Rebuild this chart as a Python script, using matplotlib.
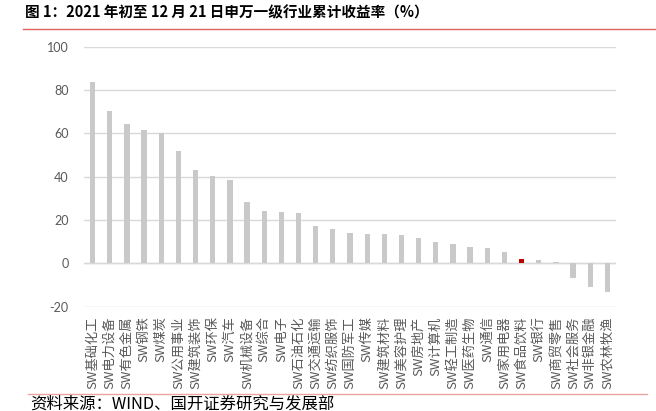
import matplotlib
matplotlib.use("Agg")
import matplotlib.pyplot as plt
from matplotlib.lines import Line2D

plt.rcParams['font.family'] = ['Noto Sans CJK SC', 'DejaVu Sans']

categories = ["SW基础化工", "SW电力设备", "SW有色金属", "SW钢铁", "SW煤炭", "SW公用事业",
              "SW建筑装饰", "SW环保", "SW汽车", "SW机械设备", "SW综合", "SW电子",
              "SW石油石化", "SW交通运输", "SW纺织服饰", "SW国防军工", "SW传媒", "SW建筑材料",
              "SW美容护理", "SW房地产", "SW计算机", "SW轻工制造", "SW医药生物", "SW通信",
              "SW家用电器", "SW食品饮料", "SW银行", "SW商贸零售", "SW社会服务", "SW非银金融",
              "SW农林牧渔"]
values = [83.6, 70.4, 64.2, 61.4, 60.1, 51.7, 42.9, 40.4, 38.7, 28.3, 24.4, 23.9,
          23.1, 17.4, 15.8, 14.0, 13.6, 13.6, 13.2, 11.8, 9.9, 9.1, 7.4, 7.0,
          5.1, 1.9, 1.6, 0.8, -6.7, -11.0, -13.3]
highlight = "SW食品饮料"
yticks = [-20, 0, 20, 40, 60, 80, 100]

W, H = 656, 411
fig = plt.figure(figsize=(W / 100, H / 100), dpi=100)
ax = fig.add_axes([84 / W, 1 - 306.7 / H, (616 - 84) / W, 260 / H])

colors = ['#c00000' if c == highlight else '#c9c9c9' for c in categories]
x = list(range(len(categories)))
ax.bar(x, values, width=0.31, color=colors, zorder=3)

ax.set_xlim(-0.5, len(categories) - 0.5)
ax.set_ylim(-20, 100)
ax.set_yticks(yticks)
ax.yaxis.grid(True, color='#d9d9d9', linewidth=1.0, zorder=0)
ax.axhline(0, color='#d9d9d9', linewidth=1.0, zorder=2)
for s in ax.spines.values():
    s.set_visible(False)
ax.tick_params(axis='y', length=0, pad=11, labelsize=9, labelcolor='#595959')
ax.set_yticklabels([str(v) for v in yticks], family=['Lato', 'DejaVu Sans'])
ax.set_xticks(x)
ax.set_xticklabels(categories, rotation=90, fontsize=9.5, color='#595959', va='top', ha='center')
ax.tick_params(axis='x', length=0, pad=7)

fig.text(25 / W, 1 - 12 / H, "图 1：2021 年初至 12 月 21 日申万一级行业累计收益率（%）",
         fontsize=10.5, fontweight='bold', color='#000000', va='center', ha='left')
fig.add_artist(Line2D([23 / W, 1.0], [1 - 29 / H, 1 - 29 / H], color='#e06060', linewidth=1.0))
fig.add_artist(Line2D([28 / W, 647 / W], [1 - 394 / H, 1 - 394 / H], color='#eba3a3', linewidth=1.0))
fig.text(30 / W, 1 - 404 / H, "资料来源：WIND、国开证券研究与发展部",
         fontsize=11.8, color='#000000', va='center', ha='left')

fig.savefig("out.png", dpi=100)
